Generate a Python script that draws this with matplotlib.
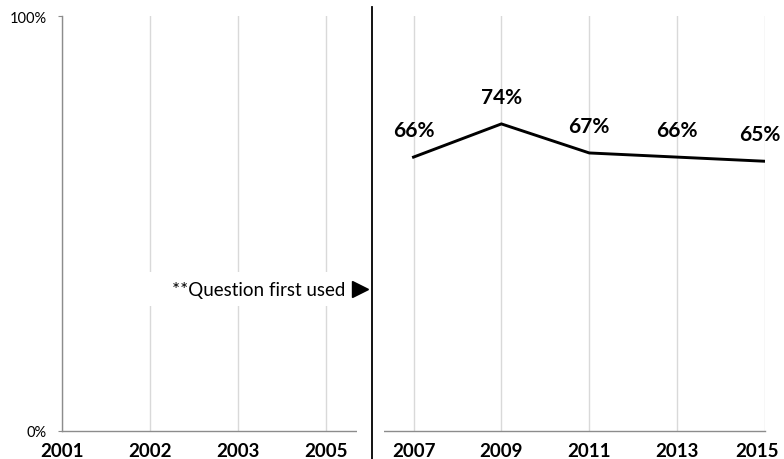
import matplotlib
matplotlib.use("Agg")
import matplotlib.pyplot as plt
from matplotlib.patches import Rectangle
from matplotlib.transforms import blended_transform_factory, ScaledTranslation

plt.rcParams['font.family'] = ['Lato', 'DejaVu Sans']

years = ["2001", "2002", "2003", "2005", "2007", "2009", "2011", "2013", "2015"]
series_years = ["2007", "2009", "2011", "2013", "2015"]
values = [66, 74, 67, 66, 65]

fig = plt.figure(figsize=(7.84, 4.6), dpi=100)
ax = fig.add_axes([0.0791, 0.0609, 0.8967, 0.9021])

xpos = list(range(len(years)))
sx = [years.index(y) for y in series_years]

ax.plot(sx, values, color='black', lw=2.1, solid_joinstyle='miter', zorder=5)
for i, (x, v) in enumerate(zip(sx, values)):
    dx = -4 if i == len(values) - 1 else 0
    ax.annotate(f"{v}%", (x, v), xytext=(dx, 19.5), textcoords='offset points',
                ha='center', va='center', fontsize=15, fontweight='bold', zorder=6)

ax.set_xlim(0, 8)
ax.set_ylim(0, 100)
ax.set_xticks(xpos)
ax.set_xticklabels(years, fontweight='bold', fontsize=13.5)
ax.set_yticks([0, 100])
ax.set_yticklabels(["0%", "100%"], fontsize=10.5)
ax.tick_params(axis='x', length=0, pad=8)
ax.tick_params(axis='y', length=3, color='#8c8c8c', pad=8)
ax.grid(axis='x', color='#d9d9d9', lw=1)
ax.set_axisbelow(True)
for s in ['top', 'right']:
    ax.spines[s].set_visible(False)
for s in ['left', 'bottom']:
    ax.spines[s].set_color('#8c8c8c')
    ax.spines[s].set_linewidth(1)

# keep the last year label inside the figure edge
last = ax.get_xticklabels()[-1]
last.set_transform(last.get_transform() + ScaledTranslation(-6 / 72, 0, fig.dpi_scale_trans))

# divider between earlier survey years and the period with data
trans = blended_transform_factory(ax.transData, ax.transAxes)
ax.add_patch(Rectangle((3.36, -0.01), 0.30, 1.03, transform=trans,
                       facecolor='white', edgecolor='none', zorder=3, clip_on=False))
ax.plot([3.53, 3.53], [-0.08, 1.022], transform=trans, color='black', lw=1.3,
        clip_on=False, zorder=4)

# note box
ax.add_patch(Rectangle((0.9, 30.2), 2.6, 8.2, facecolor='white', edgecolor='none', zorder=3))
ax.text(3.225, 34.2, "**Question first used", ha='right', va='center', fontsize=13.5, zorder=4)
ax.plot([3.395], [34.2], marker='>', markersize=11.5, color='black', zorder=4, clip_on=False)

fig.savefig("out.png", dpi=100)
